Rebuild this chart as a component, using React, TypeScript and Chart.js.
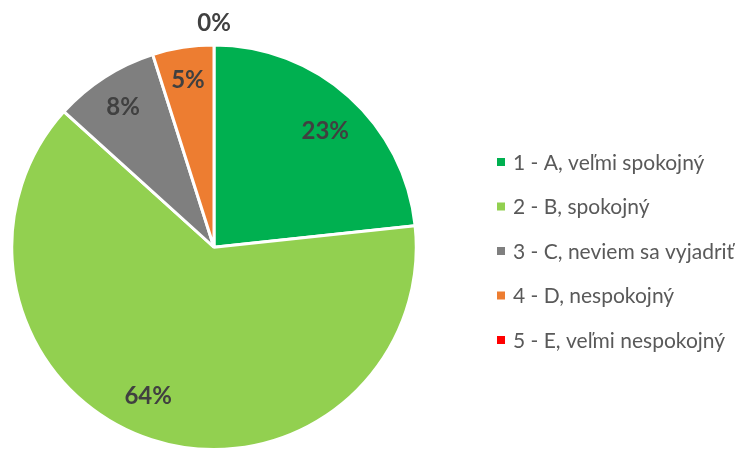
import React, { useEffect, useRef } from "react";
import { Chart, registerables } from "chart.js";

Chart.register(...registerables);

const categories = [
  "1 - A, veľmi spokojný",
  "2 - B, spokojný",
  "3 - C, neviem sa vyjadriť",
  "4 - D, nespokojný",
  "5 - E, veľmi nespokojný",
];
const values = [23.3, 63.4, 8.4, 4.9, 0];
const valueLabels = ["23%", "64%", "8%", "5%", "0%"];
const colors = ["#00B050", "#92D050", "#7F7F7F", "#ED7D31", "#FF0000"];

const FONT = "Lato, 'Open Sans', sans-serif";

// label placement (fraction of radius, angle nudge in degrees)
const labelRadius = [0.8, 0.8, 0.83, 0.84, 1.11];
const labelAngleNudge = [1.5, 6, 0, 0, 0];

const labelPlugin = {
  id: "sliceLabels",
  afterDatasetsDraw(chart: any) {
    const ctx = chart.ctx;
    const meta = chart.getDatasetMeta(0);
    ctx.save();
    ctx.font = `bold 24px ${FONT}`;
    ctx.fillStyle = "#404040";
    ctx.textAlign = "center";
    ctx.textBaseline = "middle";
    meta.data.forEach((arc: any, i: number) => {
      const { x, y, startAngle, endAngle, outerRadius } = arc.getProps(
        ["x", "y", "startAngle", "endAngle", "outerRadius"],
        true
      );
      const mid = (startAngle + endAngle) / 2 + (labelAngleNudge[i] * Math.PI) / 180;
      const r = outerRadius * labelRadius[i];
      ctx.fillText(valueLabels[i], x + Math.cos(mid) * r, y + Math.sin(mid) * r + 1);
    });
    ctx.restore();
  },
};

const legendPlugin = {
  id: "customLegend",
  afterDraw(chart: any) {
    const ctx = chart.ctx;
    ctx.save();
    ctx.font = `21px ${FONT}`;
    ctx.textBaseline = "middle";
    ctx.textAlign = "left";
    const x0 = 497;
    const y0 = 162;
    const step = 44.5;
    categories.forEach((c, i) => {
      const y = y0 + i * step;
      ctx.fillStyle = colors[i];
      ctx.fillRect(x0, y - 4, 8, 8);
      ctx.fillStyle = "#595959";
      ctx.fillText(c, x0 + 16, y + 1);
    });
    ctx.restore();
  },
};

export default function App() {
  const ref = useRef<HTMLCanvasElement>(null);
  useEffect(() => {
    if (!ref.current) return;
    const chart = new Chart(ref.current, {
      type: "pie",
      data: {
        labels: categories,
        datasets: [
          {
            data: values,
            backgroundColor: colors,
            borderColor: "#FFFFFF",
            borderWidth: 3,
          },
        ],
      },
      options: {
        animation: false,
        responsive: false,
        maintainAspectRatio: false,
        layout: { padding: { left: 9.5, right: 329.5, top: 43.5, bottom: -1.5 } },
        plugins: {
          legend: { display: false },
          tooltip: { enabled: false },
        },
      },
      plugins: [labelPlugin, legendPlugin],
    });
    return () => chart.destroy();
  }, []);
  return (
    <div style={{ position: "fixed", left: 0, top: 0, width: 748, height: 451, background: "#fff" }}>
      <canvas ref={ref} width={748} height={451} style={{ width: 748, height: 451 }} />
    </div>
  );
}
